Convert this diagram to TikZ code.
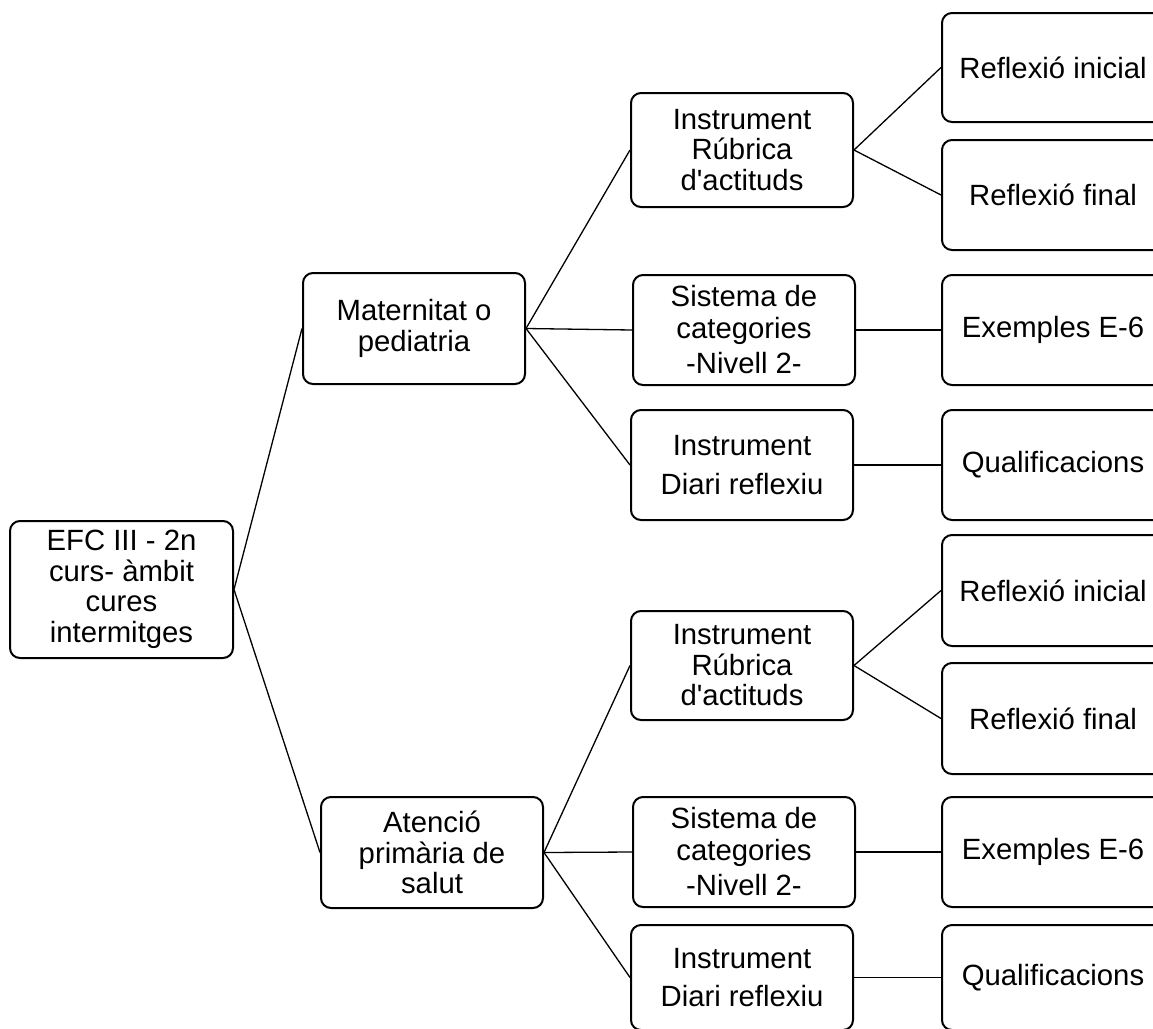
\documentclass[tikz,border=0pt]{standalone}
\usepackage{fontspec}
\setmainfont{Liberation Sans}
\begin{document}
\begin{tikzpicture}[x=1pt,y=-1pt,
  box/.style={draw=black, line width=2pt, rounded corners=10pt, fill=white,
    minimum width=222pt, minimum height=110pt, inner sep=0pt, align=center,
    font=\fontsize{29.3}{30.5}\selectfont},
  link/.style={draw=black, line width=1.3pt}]
\clip (0,0) rectangle (1153,1028);
\fill[white] (0,0) rectangle (1153,1028);

% root
\node[box, minimum width=223pt, minimum height=137pt] (root) at (121.5,589.5)
  {EFC III - 2n\\curs- àmbit\\cures\\intermitges};

% second level
\node[box, minimum height=111pt] (mat) at (414,328.5) {Maternitat o\\pediatria};
\node[box, minimum height=111pt] (aten) at (432,852.5) {Atenció\\primària de\\salut};

% third level, upper branch
\node[box, minimum height=114pt] (rubA) at (742,150) {Instrument\\Rúbrica\\d\textquotesingle actituds};
\node[box] (sisA) at (744,330) {Sistema de\\[1pt]categories\\[5pt]-Nivell 2-};
\node[box] (diaA) at (742,465) {Instrument\\[8pt]Diari reflexiu};

% third level, lower branch
\node[box, minimum height=109pt] (rubB) at (742,665.5) {Instrument\\Rúbrica\\d\textquotesingle actituds};
\node[box] (sisB) at (744,852) {Sistema de\\[1pt]categories\\[5pt]-Nivell 2-};
\node[box, minimum height=105pt] (diaB) at (742,977.5) {Instrument\\[8pt]Diari reflexiu};

% fourth level, upper branch
\node[box, minimum height=109pt] (riA) at (1053,67.5) {Reflexió inicial};
\node[box] (rfA) at (1053,195) {Reflexió final};
\node[box] (exA) at (1053,330) {Exemples E-6};
\node[box] (quA) at (1053,465) {Qualificacions};

% fourth level, lower branch
\node[box, minimum height=111pt] (riB) at (1053,590.5) {Reflexió inicial};
\node[box, minimum height=111pt] (rfB) at (1053,718.5) {Reflexió final};
\node[box] (exB) at (1053,852) {Exemples E-6};
\node[box, minimum height=105pt] (quB) at (1053,977.5) {Qualificacions};

% connectors
\draw[link] (root.east) -- (mat.west);
\draw[link] (root.east) -- (aten.west);
\draw[link] (mat.east) -- (rubA.west);
\draw[link] (mat.east) -- (sisA.west);
\draw[link] (mat.east) -- (diaA.west);
\draw[link] (aten.east) -- (rubB.west);
\draw[link] (aten.east) -- (sisB.west);
\draw[link] (aten.east) -- (diaB.west);
\draw[link] (rubA.east) -- (riA.west);
\draw[link] (rubA.east) -- (rfA.west);
\draw[link] (sisA.east) -- (exA.west);
\draw[link] (diaA.east) -- (quA.west);
\draw[link] (rubB.east) -- (riB.west);
\draw[link] (rubB.east) -- (rfB.west);
\draw[link] (sisB.east) -- (exB.west);
\draw[link] (diaB.east) -- (quB.west);
\end{tikzpicture}
\end{document}
